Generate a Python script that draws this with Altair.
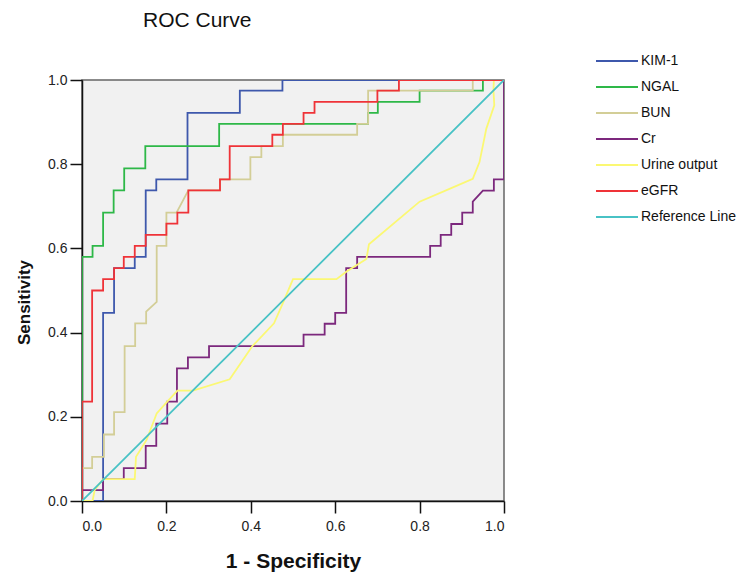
import altair as alt
import pandas as pd

series_names = ["KIM-1", "NGAL", "BUN", "Cr", "Urine output", "eGFR", "Reference Line"]
series_colors = ["#3E58AC", "#2EB848", "#D3CE97", "#7C287D", "#FBF873", "#EF3338", "#48C2C5"]

kim_x = [0, 0.050, 0.050, 0.076, 0.076, 0.125, 0.125, 0.151, 0.151, 0.176, 0.176, 0.250, 0.250, 0.374, 0.374, 0.475, 0.475, 1.0]
kim_y = [0, 0, 0.447, 0.447, 0.553, 0.553, 0.580, 0.580, 0.738, 0.738, 0.764, 0.764, 0.922, 0.922, 0.975, 0.975, 1.0, 1.0]

ngal_x = [0, 0, 0.025, 0.025, 0.050, 0.050, 0.075, 0.075, 0.100, 0.100, 0.150, 0.150, 0.325, 0.325, 0.678, 0.678, 0.701, 0.701, 0.800, 0.800, 0.950, 0.950, 1.0]
ngal_y = [0, 0.580, 0.580, 0.606, 0.606, 0.685, 0.685, 0.738, 0.738, 0.790, 0.790, 0.843, 0.843, 0.896, 0.896, 0.922, 0.922, 0.948, 0.948, 0.975, 0.975, 1.0, 1.0]

bun_x = [0, 0, 0.024, 0.024, 0.052, 0.052, 0.076, 0.076, 0.101, 0.101, 0.126, 0.126, 0.152, 0.152, 0.177, 0.177, 0.200, 0.200, 0.224, 0.252, 0.327, 0.327, 0.399, 0.399, 0.425, 0.425, 0.476, 0.476, 0.652, 0.652, 0.678, 0.678, 0.926, 0.926, 1.0]
bun_y = [0, 0.078, 0.078, 0.105, 0.105, 0.158, 0.158, 0.211, 0.211, 0.368, 0.368, 0.422, 0.422, 0.450, 0.473, 0.606, 0.606, 0.685, 0.685, 0.738, 0.738, 0.764, 0.764, 0.817, 0.817, 0.843, 0.843, 0.870, 0.870, 0.896, 0.896, 0.975, 0.975, 1.0, 1.0]

cr_x = [0, 0, 0.050, 0.050, 0.099, 0.099, 0.151, 0.151, 0.176, 0.176, 0.202, 0.202, 0.225, 0.225, 0.251, 0.251, 0.301, 0.301, 0.525, 0.525, 0.575, 0.575, 0.600, 0.600, 0.626, 0.626, 0.652, 0.652, 0.825, 0.825, 0.850, 0.850, 0.875, 0.875, 0.901, 0.901, 0.926, 0.926, 0.950, 0.976, 0.976, 1.0, 1.0]
cr_y = [0, 0.026, 0.026, 0.052, 0.052, 0.078, 0.078, 0.131, 0.131, 0.184, 0.184, 0.236, 0.236, 0.315, 0.315, 0.341, 0.341, 0.368, 0.368, 0.395, 0.395, 0.421, 0.421, 0.447, 0.447, 0.553, 0.553, 0.580, 0.580, 0.606, 0.606, 0.632, 0.632, 0.658, 0.658, 0.685, 0.685, 0.711, 0.737, 0.737, 0.764, 0.764, 1.0]

urine_x = [0, 0.025, 0.030, 0.050, 0.125, 0.128, 0.153, 0.177, 0.202, 0.226, 0.263, 0.350, 0.403, 0.455, 0.476, 0.500, 0.603, 0.627, 0.674, 0.680, 0.800, 0.875, 0.926, 0.942, 0.958, 0.977, 0.975, 0.976, 1.0]
urine_y = [0, 0, 0.026, 0.052, 0.052, 0.105, 0.145, 0.208, 0.236, 0.262, 0.262, 0.289, 0.367, 0.422, 0.470, 0.527, 0.527, 0.545, 0.575, 0.610, 0.711, 0.743, 0.765, 0.805, 0.884, 0.940, 0.975, 1.0, 1.0]

egfr_x = [0, 0, 0.024, 0.024, 0.050, 0.050, 0.076, 0.076, 0.099, 0.099, 0.125, 0.125, 0.151, 0.151, 0.200, 0.200, 0.226, 0.226, 0.252, 0.252, 0.327, 0.327, 0.350, 0.350, 0.451, 0.451, 0.476, 0.476, 0.525, 0.525, 0.551, 0.551, 0.700, 0.700, 0.751, 0.751, 1.0]
egfr_y = [0, 0.236, 0.236, 0.500, 0.500, 0.527, 0.527, 0.553, 0.553, 0.580, 0.580, 0.606, 0.606, 0.632, 0.632, 0.659, 0.659, 0.685, 0.685, 0.738, 0.738, 0.764, 0.764, 0.843, 0.843, 0.870, 0.870, 0.896, 0.896, 0.922, 0.922, 0.948, 0.948, 0.975, 0.975, 1.0, 1.0]

ref_x = [0, 1.0]
ref_y = [0, 1.0]

all_x = [kim_x, ngal_x, bun_x, cr_x, urine_x, egfr_x, ref_x]
all_y = [kim_y, ngal_y, bun_y, cr_y, urine_y, egfr_y, ref_y]

rows = []
for k, (name, xs, ys) in enumerate(zip(series_names, all_x, all_y)):
    for i, (xv, yv) in enumerate(zip(xs, ys)):
        rows.append({"series": name, "sorder": k, "idx": i, "fpr": xv, "tpr": yv})
df = pd.DataFrame(rows)

font = "Liberation Sans"

chart = alt.Chart(df).mark_line(strokeWidth=1.8, strokeJoin="miter", strokeCap="square", clip=True).encode(
    x=alt.X("fpr:Q", scale=alt.Scale(domain=[0, 1], nice=False, zero=False),
            axis=alt.Axis(title="1 - Specificity", values=[0, 0.2, 0.4, 0.6, 0.8, 1.0], format=".1f",
                          titleX=211, titleY=66, titleBaseline="alphabetic")),
    y=alt.Y("tpr:Q", scale=alt.Scale(domain=[0, 1], nice=False, zero=False),
            axis=alt.Axis(title="Sensitivity", values=[0, 0.2, 0.4, 0.6, 0.8, 1.0], format=".1f",
                          titleX=-53, titleY=222, titleBaseline="alphabetic")),
    color=alt.Color("series:N", scale=alt.Scale(domain=series_names, range=series_colors),
                    sort=series_names,
                    legend=alt.Legend(title=None, orient="none", legendX=513, legendY=-31,
                                      symbolType="stroke", symbolSize=1764, symbolStrokeWidth=2,
                                      labelFontSize=14, labelFont=font, labelColor="#111",
                                      labelOffset=2, clipHeight=24, rowPadding=2)),
    detail="sorder:O",
    order="idx:Q",
).properties(
    width=422, height=421,
    title=alt.TitleParams("ROC Curve", anchor="start", dx=128, fontSize=21, fontWeight="normal",
                          font=font, color="#111", offset=18),
    autosize=alt.AutoSizeParams(type="none"),
    padding={"left": 74, "top": 72, "right": 244, "bottom": 85},
).configure_view(
    fill="#F1F1F1", stroke="#666666", strokeWidth=1.5,
).configure_axis(
    grid=False, domainColor="#111", domainWidth=1.5, tickColor="#111", tickWidth=1.5, tickSize=12,
    labelFont=font, labelFontSize=14, labelColor="#222", titleFont=font,
    titleFontWeight="bold", titleColor="#111",
).configure_axisX(labelPadding=6, titleFontSize=21).configure_axisY(labelPadding=3, titleFontSize=17)

chart.save("out.html", embed_options={"renderer": "svg", "actions": False})
